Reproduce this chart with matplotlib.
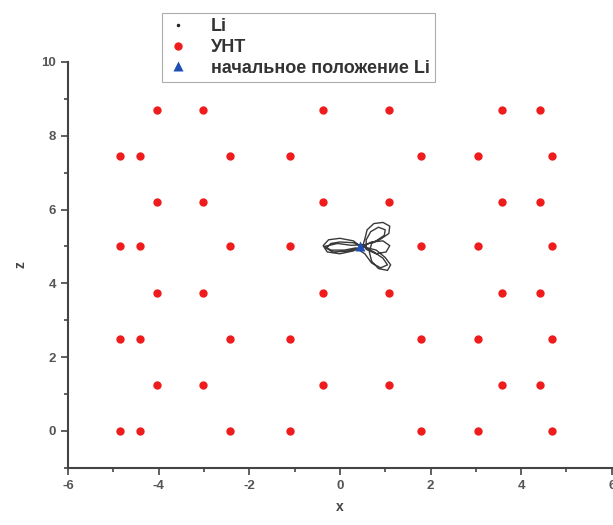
import matplotlib.pyplot as plt
from matplotlib.ticker import MultipleLocator

# carbon atom positions (unrolled nanotube), rows alternate between two x sets
row_a_x = [-4.86, -4.42, -2.43, -1.10, 1.79, 3.05, 4.68]
row_a_z = [0.0, 2.5, 5.0, 7.45]
row_b_x = [-4.04, -3.02, -0.38, 1.08, 3.58, 4.41]
row_b_z = [1.25, 3.75, 6.2, 8.7]

# Li trajectory
traj_x = [0.45, 0.3, 0.0, -0.25, -0.37, -0.28, 0.0, 0.3, 0.5,
          0.55, 0.6, 0.75, 0.95, 1.1, 1.08, 0.9, 0.7,
          0.65, 0.7, 0.85, 1.05, 1.12, 1.0, 0.8, 0.55,
          0.3, 0.0, -0.2, -0.3, -0.15, 0.15, 0.42,
          0.7, 0.95, 1.1, 1.02, 0.8, 0.58,
          0.58, 0.68, 0.85, 1.0, 0.98, 0.8, 0.58,
          0.25, -0.05, -0.34, -0.2, 0.1, 0.35,
          0.55, 0.7, 0.9, 1.05, 0.95, 0.75, 0.5]
traj_z = [5.0, 5.15, 5.22, 5.18, 5.02, 4.85, 4.8, 4.88, 5.0,
          5.2, 5.45, 5.62, 5.65, 5.55, 5.35, 5.2, 5.08,
          4.85, 4.6, 4.4, 4.35, 4.5, 4.7, 4.9, 4.98,
          5.1, 5.12, 5.08, 4.95, 4.85, 4.87, 4.96,
          5.12, 5.15, 5.02, 4.85, 4.8, 4.92,
          5.18, 5.4, 5.52, 5.45, 5.3, 5.15, 5.05,
          5.03, 5.08, 5.0, 4.9, 4.9, 4.96,
          4.8, 4.55, 4.42, 4.5, 4.68, 4.85, 5.0]

start_x = [0.45]
start_z = [5.0]

plt.rcParams['font.family'] = ['Liberation Sans', 'DejaVu Sans']
plt.rcParams['axes.unicode_minus'] = False

fig = plt.figure(figsize=(6.13, 5.25), dpi=100)
ax = fig.add_axes([0.111, 0.109, 0.887, 0.773])

cnt_x = [x for z in row_a_z for x in row_a_x] + [x for z in row_b_z for x in row_b_x]
cnt_z = [z for z in row_a_z for x in row_a_x] + [z for z in row_b_z for x in row_b_x]

ax.plot(traj_x, traj_z, color='#3a3a3a', lw=1.0)
ax.plot(cnt_x, cnt_z, 'o', color='#ee1c1c', ms=6, mec='none')
ax.plot(start_x, start_z, '^', color='#1f4fb4', ms=7, mec='none')

# legend handles
h_li, = ax.plot([], [], '.', color='#222222', ms=3)
h_cnt, = ax.plot([], [], 'o', color='#ee1c1c', ms=6, mec='none')
h_start, = ax.plot([], [], '^', color='#1f4fb4', ms=7, mec='none')
leg = fig.legend([h_li, h_cnt, h_start], ['Li', 'УНТ', 'начальное положение Li'],
                 loc='upper left', bbox_to_anchor=(162 / 613, 1 - 13 / 525),
                 prop={'size': 13, 'weight': 'bold'}, frameon=True, fancybox=False,
                 handlelength=1.2, handletextpad=1.2, labelspacing=0.2,
                 borderpad=0.3, borderaxespad=0)
for t in leg.get_texts():
    t.set_color('#333333')
leg.get_frame().set_edgecolor('#999999')
leg.get_frame().set_linewidth(0.8)

ax.set_xlim(-6, 6)
ax.set_ylim(-1, 10)
ax.xaxis.set_major_locator(MultipleLocator(2))
ax.xaxis.set_minor_locator(MultipleLocator(1))
ax.yaxis.set_major_locator(MultipleLocator(2))
ax.yaxis.set_minor_locator(MultipleLocator(1))

for side in ['top', 'right']:
    ax.spines[side].set_visible(False)
for side in ['left', 'bottom']:
    ax.spines[side].set_color('#444444')
    ax.spines[side].set_linewidth(1.5)

ax.tick_params(which='major', length=5, width=1.2, color='#444444',
               labelsize=9.5, labelcolor='#555555', direction='out')
ax.tick_params(which='minor', length=3, width=1.2, color='#444444', direction='out')
for lbl in ax.get_xticklabels() + ax.get_yticklabels():
    lbl.set_fontweight('bold')

ax.set_xlabel('x', fontsize=10, color='#444444', labelpad=6, fontweight='bold')
ax.set_ylabel('z', fontsize=10, color='#444444', labelpad=10, fontweight='bold')

plt.savefig('out.png', dpi=100)
